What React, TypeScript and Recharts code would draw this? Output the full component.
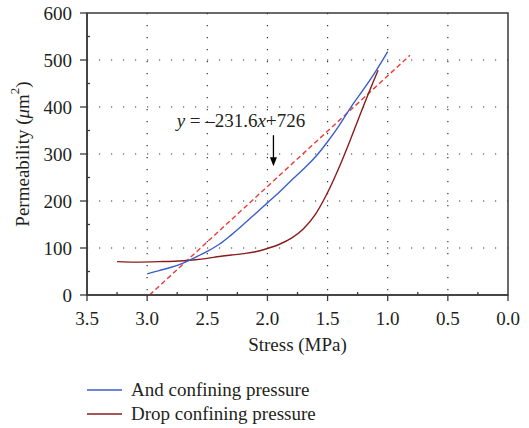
import {
  LineChart,
  Line,
  XAxis,
  YAxis,
  CartesianGrid,
  Legend,
  ReferenceArea,
  ReferenceLine,
  ReferenceDot,
} from 'recharts';

// loading curve (And confining pressure)
const loadStress = [3.0, 2.9, 2.8, 2.7, 2.6, 2.5, 2.4, 2.3, 2.2, 2.1, 2.0, 1.9, 1.8, 1.7, 1.6, 1.5, 1.4, 1.3, 1.2, 1.1, 1.0];
const loadPerm = [45, 52, 59, 68, 80, 93, 108, 128, 150, 173, 196, 219, 244, 268, 294, 326, 362, 402, 438, 476, 518];

// unloading curve (Drop confining pressure)
const dropStress = [3.25, 3.1, 2.9, 2.7, 2.6, 2.5, 2.4, 2.3, 2.2, 2.1, 2.0, 1.9, 1.8, 1.7, 1.6, 1.5, 1.4, 1.3, 1.2, 1.1, 1.08];
const dropPerm = [71, 70, 71, 73, 75, 78, 82, 85, 88, 92, 99, 108, 121, 141, 172, 218, 274, 337, 403, 466, 478];

// fitted line as drawn
const fitStress = [2.98, 0.815];
const fitPerm = [0, 510];

const xTicks = [0, 0.25, 0.5, 0.75, 1, 1.25, 1.5, 1.75, 2, 2.25, 2.5, 2.75, 3, 3.25, 3.5];
const yTicks = [0, 50, 100, 150, 200, 250, 300, 350, 400, 450, 500, 550, 600];
const xGrid = [3, 2.5, 2, 1.5, 1, 0.5];
const yGrid = [100, 200, 300, 400, 500];

const seriesNames = ['And confining pressure', 'Drop confining pressure'];
const seriesColors = ['#3a5fcd', '#8b1c1c'];

const loadData = loadStress.map((s, i) => ({ stress: s, perm: loadPerm[i] }));
const dropData = dropStress.map((s, i) => ({ stress: s, perm: dropPerm[i] }));
const fitData = fitStress.map((s, i) => ({ stress: s, perm: fitPerm[i] }));

const FONT = 'Liberation Serif, DejaVu Serif, Tinos, Times, serif';
const INK = '#231f20';
const AXIS = '#3a3a3a';

const XTick = (props: any) => {
  const { x, y, payload } = props;
  const v = payload.value;
  const major = Math.abs(v * 2 - Math.round(v * 2)) < 1e-6;
  if (!major) return <line x1={x} y1={y} x2={x} y2={y - 3} stroke={AXIS} strokeWidth={1.3} />;
  return (
    <g>
      <line x1={x} y1={y} x2={x} y2={y + 6} stroke={AXIS} strokeWidth={1.3} />
      <text x={x} y={y + 30} textAnchor="middle" style={{ fontFamily: FONT }} fontSize={19} fill={INK}>
        {v.toFixed(1)}
      </text>
    </g>
  );
};

const YTick = (props: any) => {
  const { x, y, payload } = props;
  const v = payload.value;
  if (v % 100 !== 0) return <line x1={x} y1={y} x2={x + 3} y2={y} stroke={AXIS} strokeWidth={1.3} />;
  return (
    <g>
      <line x1={x - 7} y1={y} x2={x} y2={y} stroke={AXIS} strokeWidth={1.3} />
      <text x={x - 15} y={y + 6.5} textAnchor="end" style={{ fontFamily: FONT }} fontSize={19} fill={INK}>
        {v}
      </text>
    </g>
  );
};

const XTitle = (props: any) => {
  const vb = props.viewBox;
  return (
    <text x={vb.x + vb.width / 2} y={vb.y + 56} textAnchor="middle" style={{ fontFamily: FONT }} fontSize={19} fill={INK}>
      Stress (MPa)
    </text>
  );
};

const YTitle = (props: any) => {
  const vb = props.viewBox;
  const cy = vb.y + vb.height / 2;
  return (
    <text
      x={22}
      y={cy}
      transform={`rotate(-90 22 ${cy})`}
      textAnchor="middle"
      dominantBaseline="central"
      style={{ fontFamily: FONT }}
      fontSize={19}
      fill={INK}
    >
      Permeability (<tspan fontStyle="italic">μ</tspan>m<tspan baselineShift="super" fontSize={13}>2</tspan>)
    </text>
  );
};

const Equation = (props: any) => (
  <text x={props.cx} y={props.cy} textAnchor="middle" style={{ fontFamily: FONT }} fontSize={19} fill={INK}>
    <tspan fontStyle="italic">y</tspan> = –231.6<tspan fontStyle="italic">x</tspan>+726
  </text>
);

const Arrow = (props: any) => {
  const { x1, y1, x2, y2 } = props;
  return (
    <g>
      <line x1={x1} y1={y1} x2={x2} y2={y2 - 6} stroke="#000" strokeWidth={1.3} />
      <path d={`M${x2 - 3.5},${y2 - 9} L${x2},${y2} L${x2 + 3.5},${y2 - 9} Z`} fill="#000" />
    </g>
  );
};

const LegendBox = () => (
  <div style={{ height: 56, paddingTop: 6, boxSizing: 'border-box', paddingLeft: 87 }}>
    {seriesNames.map((name, i) => (
      <div key={name} style={{ display: 'flex', alignItems: 'center', height: 24 }}>
        <svg width={35} height={4} style={{ marginRight: 9 }}>
          <line x1={0} y1={2} x2={35} y2={2} stroke={seriesColors[i]} strokeWidth={1.4} />
        </svg>
        <span style={{ fontFamily: FONT, fontSize: 19, color: INK }}>{name}</span>
      </div>
    ))}
  </div>
);

export default function App() {
  return (
    <div style={{ position: 'absolute', left: 0, top: 0, background: '#fff', fontFamily: FONT }}>
      <LineChart width={529} height={428} margin={{ top: 13, right: 21, left: 0, bottom: 0 }}>
        <CartesianGrid
          horizontalValues={yGrid}
          verticalValues={xGrid}
          stroke="#333"
          strokeWidth={1.2}
          strokeDasharray="1.2 10.8"
        />
        <XAxis
          dataKey="stress"
          type="number"
          domain={[0, 3.5]}
          reversed
          ticks={xTicks}
          interval={0}
          tickSize={0}
          tickMargin={0}
          tickLine={false}
          tick={<XTick />}
          height={77}
          axisLine={{ stroke: AXIS, strokeWidth: 1.5 }}
          label={<XTitle />}
          allowDataOverflow
        />
        <YAxis
          type="number"
          domain={[0, 600]}
          ticks={yTicks}
          interval={0}
          tickSize={0}
          tickMargin={0}
          tickLine={false}
          tick={<YTick />}
          width={87}
          axisLine={{ stroke: AXIS, strokeWidth: 1.5 }}
          label={<YTitle />}
        />
        <ReferenceArea x1={3.5} x2={0} y1={0} y2={600} fill="none" stroke={AXIS} strokeWidth={1.5} />
        <Line
          data={fitData}
          dataKey="perm"
          type="linear"
          stroke="#ee3a33"
          strokeWidth={1.4}
          strokeDasharray="5 3"
          dot={false}
          legendType="none"
          isAnimationActive={false}
        />
        <Line
          data={dropData}
          dataKey="perm"
          name={seriesNames[1]}
          type="monotone"
          stroke={seriesColors[1]}
          strokeWidth={1.4}
          dot={false}
          isAnimationActive={false}
        />
        <Line
          data={loadData}
          dataKey="perm"
          name={seriesNames[0]}
          type="monotone"
          stroke={seriesColors[0]}
          strokeWidth={1.4}
          dot={false}
          isAnimationActive={false}
        />
        <ReferenceLine segment={[{ x: 1.95, y: 340 }, { x: 1.95, y: 274 }]} shape={<Arrow />} />
        <ReferenceDot x={2.22} y={357} r={0} shape={<Equation />} />
        <Legend verticalAlign="bottom" align="left" height={56} content={<LegendBox />} />
      </LineChart>
    </div>
  );
}
